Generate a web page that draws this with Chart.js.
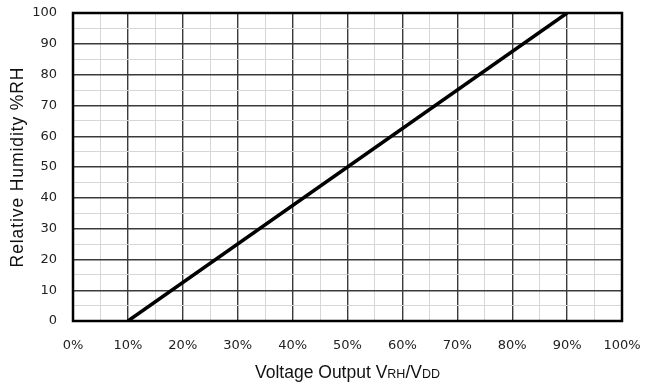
<!DOCTYPE html>
<html>
<head>
<meta charset="utf-8">
<script src="https://cdn.jsdelivr.net/npm/chart.js@4"></script>
<style>
html,body{margin:0;padding:0;background:#fff;}
#wrap{width:650px;height:384px;position:relative;}
</style>
</head>
<body>
<div id="wrap"><canvas id="c" width="650" height="384"></canvas></div>
<script>
const voltageOutput = [10, 90];      // % of VDD
const relativeHumidity = [0, 100];   // %RH
const xTicks = [0,10,20,30,40,50,60,70,80,90,100];
const yTicks = [0,10,20,30,40,50,60,70,80,90,100];
const yTitle = 'Relative Humidity %RH';
const xTitleParts = [['Voltage Output V', 'big'], ['RH', 'small'], ['/V', 'big'], ['DD', 'small']];

const PLOT = {left: 73, right: 622, top: 13, bottom: 321};

const frame = {
  id: 'frame',
  afterDraw(chart) {
    const ctx = chart.ctx, a = chart.chartArea;
    ctx.save();
    ctx.strokeStyle = '#000';
    ctx.lineWidth = 2.5;
    ctx.strokeRect(a.left, a.top, a.right - a.left, a.bottom - a.top);
    // y title
    ctx.fillStyle = '#111';
    ctx.font = '17.5px "Liberation Sans", Arial, sans-serif';
    if ('letterSpacing' in ctx) ctx.letterSpacing = '0.9px';
    ctx.textAlign = 'center';
    ctx.textBaseline = 'middle';
    ctx.translate(18, 167);
    ctx.rotate(-Math.PI / 2);
    ctx.fillText(yTitle, 0, 0);
    ctx.restore();
    // x title with small caps subscripts
    ctx.save();
    ctx.fillStyle = '#111';
    ctx.textBaseline = 'alphabetic';
    ctx.textAlign = 'left';
    const fonts = {big: '17.5px "Liberation Sans", Arial, sans-serif', small: '12.5px "Liberation Sans", Arial, sans-serif'};
    let total = 0;
    for (const [t, s] of xTitleParts) { ctx.font = fonts[s]; total += ctx.measureText(t).width; }
    let x = (a.left + a.right) / 2 - total / 2;
    const base = 378;
    for (const [t, s] of xTitleParts) { ctx.font = fonts[s]; ctx.fillText(t, x, base); x += ctx.measureText(t).width; }
    ctx.restore();
  }
};

function gridOpts() {
  return {
    drawTicks: false,
    color: c => (c.tick && c.tick.value % 10 === 0) ? '#3a3a3a' : '#d6d6d6',
    lineWidth: c => (c.tick && c.tick.value % 10 === 0) ? 1.4 : 1
  };
}
function allTicks(s) { const t = []; for (let v = 0; v <= 100; v += 5) t.push({value: v}); s.ticks = t; }

new Chart(document.getElementById('c'), {
  type: 'scatter',
  data: {
    datasets: [{
      data: voltageOutput.map((v, i) => ({x: v, y: relativeHumidity[i]})),
      showLine: true,
      borderColor: '#000',
      borderWidth: 3.5,
      pointRadius: 0,
      fill: false
    }]
  },
  options: {
    responsive: false,
    animation: false,
    layout: {padding: {left: 0, right: 650 - PLOT.right, top: PLOT.top, bottom: 0}},
    plugins: {legend: {display: false}, tooltip: {enabled: false}},
    scales: {
      x: {
        type: 'linear', min: 0, max: 100,
        afterBuildTicks: allTicks,
        afterFit(s) { s.height = 384 - PLOT.bottom; s.paddingLeft = 0; s.paddingRight = 0; },
        border: {display: false},
        grid: gridOpts(),
        ticks: {
          padding: 17,
          color: '#222',
          font: {family: '"DejaVu Sans", Verdana, sans-serif', size: 13},
          maxRotation: 0, autoSkip: false,
          callback: v => (v % 10 === 0 && xTicks.includes(v)) ? v + '%' : ''
        }
      },
      y: {
        type: 'linear', min: 0, max: 100,
        afterBuildTicks: allTicks,
        afterFit(s) { s.width = PLOT.left; s.paddingTop = 0; s.paddingBottom = 0; },
        border: {display: false},
        grid: gridOpts(),
        ticks: {
          padding: 16,
          color: '#222',
          font: {family: '"DejaVu Sans", Verdana, sans-serif', size: 13},
          autoSkip: false,
          callback: v => (v % 10 === 0 && yTicks.includes(v)) ? String(v) : ''
        }
      }
    }
  },
  plugins: [frame]
});
</script>
</body>
</html>
